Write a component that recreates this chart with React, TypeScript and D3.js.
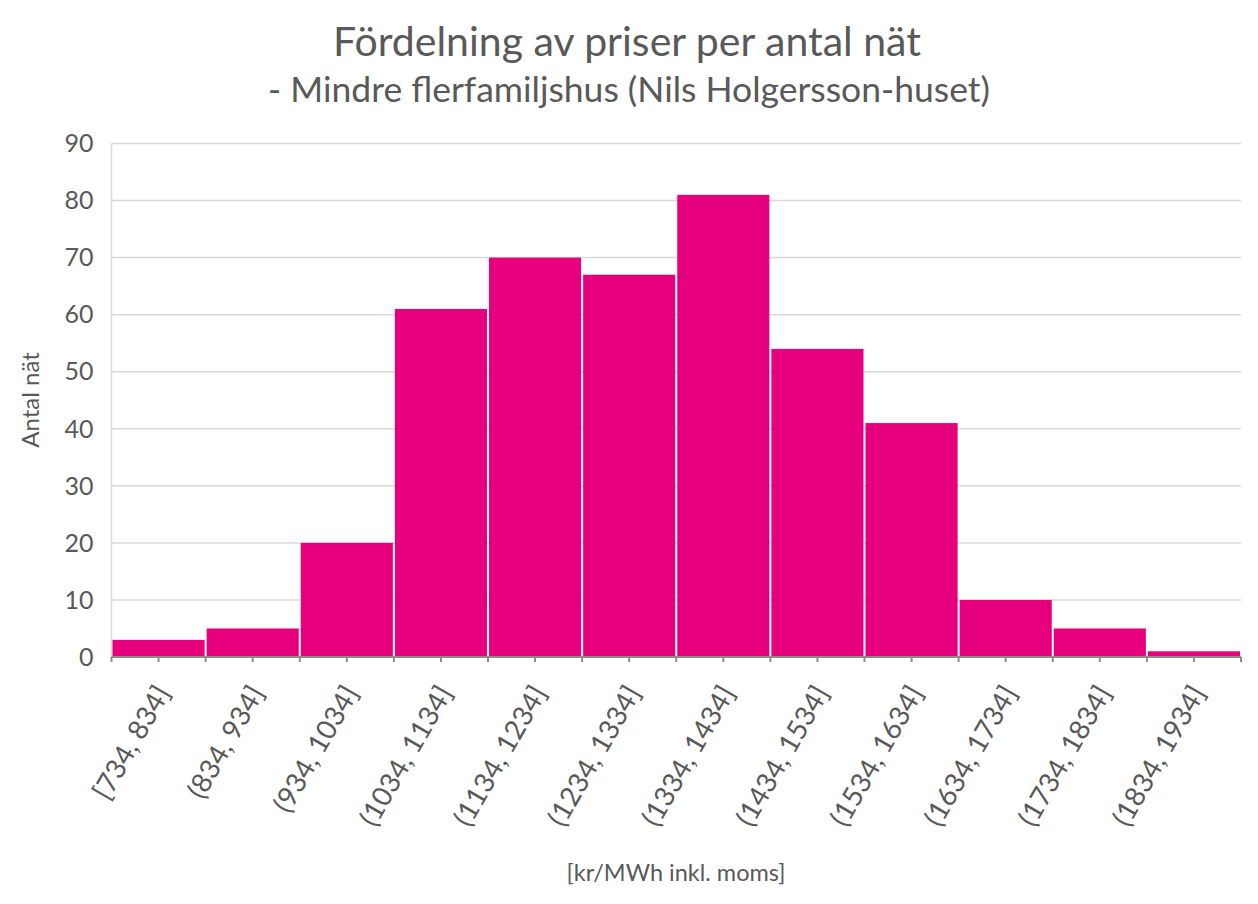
import React, { useRef, useEffect } from "react";
import * as d3 from "d3";

const bins = [
  "[734, 834]",
  "(834, 934]",
  "(934, 1034]",
  "(1034, 1134]",
  "(1134, 1234]",
  "(1234, 1334]",
  "(1334, 1434]",
  "(1434, 1534]",
  "(1534, 1634]",
  "(1634, 1734]",
  "(1734, 1834]",
  "(1834, 1934]",
];
const counts = [3, 5, 20, 61, 70, 67, 81, 54, 41, 10, 5, 1];
const yTicks = [0, 10, 20, 30, 40, 50, 60, 70, 80, 90];

const title = "Fördelning av priser per antal nät";
const subtitle = "- Mindre flerfamiljshus (Nils Holgersson-huset)";
const yLabel = "Antal nät";
const xLabel = "[kr/MWh inkl. moms]";

const W = 1258;
const H = 904;
const FONT = "Lato, 'Open Sans', sans-serif";
const TEXT = "#595959";

export default function App() {
  const svgRef = useRef<SVGSVGElement>(null);

  useEffect(() => {
    if (!svgRef.current) return;
    const margin = { top: 143.5, right: 17, bottom: 247, left: 111.5 };
    const width = W - margin.left - margin.right;
    const height = H - margin.top - margin.bottom;

    const svg = d3.select(svgRef.current);
    svg.selectAll("*").remove();

    svg.append("text")
      .attr("x", 627).attr("y", 56)
      .attr("text-anchor", "middle")
      .attr("font-family", FONT).attr("font-size", 41)
      .attr("fill", TEXT).text(title);

    svg.append("text")
      .attr("x", 629).attr("y", 102)
      .attr("text-anchor", "middle")
      .attr("font-family", FONT).attr("font-size", 35.5)
      .attr("fill", TEXT).text(subtitle);

    const g = svg.append("g").attr("transform", `translate(${margin.left},${margin.top})`);

    const x = d3.scaleBand<string>().domain(bins).range([0, width]).padding(0);
    const y = d3.scaleLinear().domain([0, 90]).range([height, 0]);

    // gridlines
    g.selectAll("line.grid")
      .data(yTicks.filter(t => t > 0))
      .join("line")
      .attr("x1", 0).attr("x2", width)
      .attr("y1", d => y(d)).attr("y2", d => y(d))
      .attr("stroke", "#d9d9d9").attr("stroke-width", 1.5);

    // left axis line
    g.append("line")
      .attr("x1", 0).attr("x2", 0).attr("y1", 0).attr("y2", height)
      .attr("stroke", "#d9d9d9").attr("stroke-width", 1.5);

    // y tick labels
    g.selectAll("text.ytick")
      .data(yTicks)
      .join("text")
      .attr("x", -18).attr("y", d => y(d))
      .attr("dy", "0.35em")
      .attr("text-anchor", "end")
      .attr("font-family", FONT).attr("font-size", 25)
      .attr("fill", TEXT).text(d => d);

    // bars
    g.selectAll("rect.bar")
      .data(counts)
      .join("rect")
      .attr("x", (_, i) => x(bins[i])! + 1)
      .attr("width", x.bandwidth() - 2)
      .attr("y", d => y(d))
      .attr("height", d => height - y(d))
      .attr("fill", "#E6007E");

    // x axis line + ticks
    g.append("line")
      .attr("x1", 0).attr("x2", width).attr("y1", height).attr("y2", height)
      .attr("stroke", "#8c8c8c").attr("stroke-width", 2);

    const tickPos: number[] = [];
    bins.forEach(b => {
      tickPos.push(x(b)!);
      tickPos.push(x(b)! + x.bandwidth() / 2);
    });
    tickPos.push(width);
    g.selectAll("line.xtick")
      .data(tickPos)
      .join("line")
      .attr("x1", d => d).attr("x2", d => d)
      .attr("y1", height).attr("y2", height + 5)
      .attr("stroke", "#8c8c8c").attr("stroke-width", 2);

    // x tick labels
    g.selectAll("text.xtick")
      .data(bins)
      .join("text")
      .attr("transform", d => `translate(${x(d)! + x.bandwidth() / 2 + 4},${height + 31}) rotate(-60)`)
      .attr("text-anchor", "end")
      .attr("dy", "0.35em")
      .attr("font-family", FONT).attr("font-size", 27.5)
      .attr("fill", TEXT).text(d => d);

    // axis titles
    svg.append("text")
      .attr("transform", `translate(39,400) rotate(-90)`)
      .attr("text-anchor", "middle")
      .attr("font-family", FONT).attr("font-size", 24)
      .attr("fill", TEXT).text(yLabel);

    svg.append("text")
      .attr("x", 676).attr("y", 881)
      .attr("text-anchor", "middle")
      .attr("font-family", FONT).attr("font-size", 23.5)
      .attr("fill", TEXT).text(xLabel);
  }, []);

  return (
    <svg
      ref={svgRef}
      width={W}
      height={H}
      style={{ position: "absolute", left: 0, top: 0, background: "#fff" }}
    />
  );
}
